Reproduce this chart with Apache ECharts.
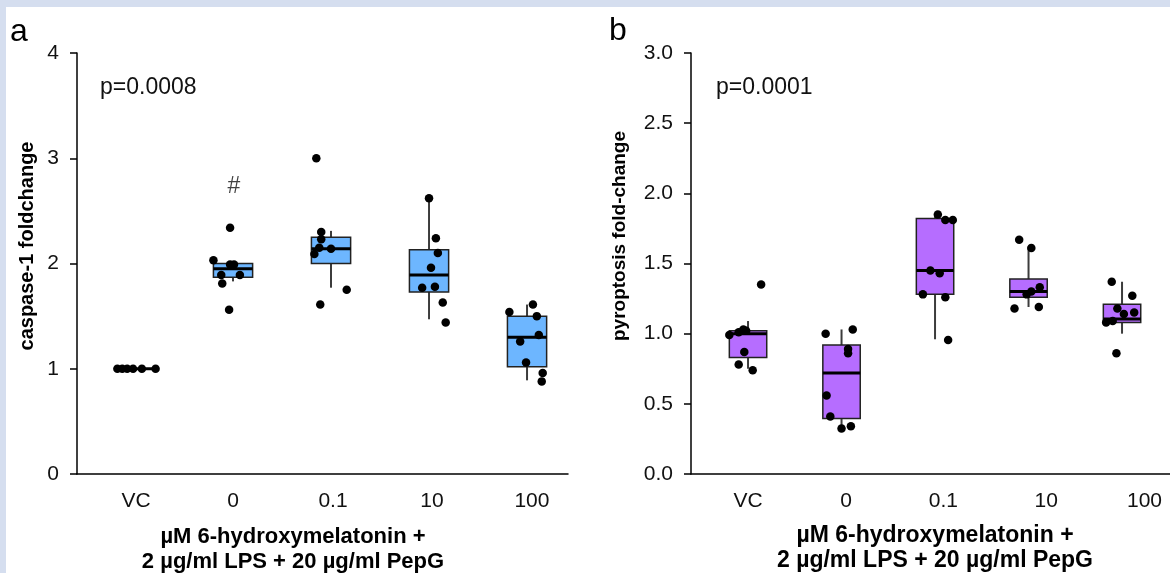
<!DOCTYPE html>
<html>
<head>
<meta charset="utf-8">
<script src="https://cdn.jsdelivr.net/npm/echarts@6/dist/echarts.min.js"></script>
<style>
html,body{margin:0;padding:0;background:#d5deef;}
#paper{position:absolute;left:6px;top:7px;width:1164px;height:566px;background:#fff;}
#chart{position:absolute;left:0;top:0;width:1170px;height:573px;}
</style>
</head>
<body>
<div id="paper"></div>
<div id="chart"></div>
<script>
const groups = ['VC', '0', '0.1', '10', '100'];

// panel a: caspase-1 foldchange, box = [min, Q1, median, Q3, max]
const casBox = [
  [1.0, 1.0, 1.0, 1.0, 1.0],
  [1.83, 1.87, 1.95, 2.0, 2.0],
  [1.77, 2.0, 2.14, 2.25, 2.31],
  [1.47, 1.73, 1.89, 2.13, 2.62],
  [0.89, 1.02, 1.30, 1.50, 1.61]
];
const casDots = [
  [1.0, 1.0, 1.0, 1.0, 1.0, 1.0],
  [2.03, 2.34, 1.99, 1.99, 1.89, 1.89, 1.81, 1.56],
  [3.0, 2.30, 2.23, 2.15, 2.14, 2.09, 1.75, 1.61],
  [2.62, 2.24, 2.10, 1.96, 1.77, 1.78, 1.63, 1.44],
  [1.54, 1.61, 1.50, 1.32, 1.26, 1.06, 0.96, 0.88]
];
const casJitter = [
  [-0.18, -0.13, -0.08, -0.02, 0.07, 0.21],
  [-0.20, -0.03, -0.03, 0.01, -0.12, 0.07, -0.11, -0.04],
  [-0.15, -0.10, -0.10, -0.12, 0.0, -0.17, 0.16, -0.11],
  [0.0, 0.07, 0.09, 0.02, -0.07, 0.06, 0.14, 0.17],
  [-0.18, 0.06, 0.10, 0.12, -0.07, -0.01, 0.16, 0.15]
];
const casLabelAt = [1.01, 2.0, 3.02, 4.03, 5.05];
const casTicks = [0, 1, 2, 3, 4];

// panel b: pyroptosis fold-change
const pyrBox = [
  [0.75, 0.83, 1.0, 1.02, 1.09],
  [0.34, 0.395, 0.72, 0.92, 1.03],
  [0.96, 1.28, 1.45, 1.82, 1.85],
  [1.19, 1.26, 1.30, 1.39, 1.62],
  [1.0, 1.08, 1.105, 1.21, 1.37]
];
const pyrDots = [
  [1.35, 0.99, 1.01, 1.03, 1.02, 0.87, 0.78, 0.74],
  [1.0, 1.03, 0.89, 0.86, 0.56, 0.41, 0.325, 0.34],
  [1.85, 1.81, 1.81, 1.45, 1.43, 1.28, 1.26, 0.955],
  [1.67, 1.61, 1.33, 1.30, 1.28, 1.18, 1.19],
  [1.37, 1.27, 1.18, 1.14, 1.15, 1.09, 1.08, 0.86]
];
const pyrJitter = [
  [0.14, -0.20, -0.10, -0.05, -0.02, -0.04, -0.10, 0.05],
  [-0.17, 0.12, 0.07, 0.07, -0.16, -0.12, 0.0, 0.10],
  [0.03, 0.11, 0.19, -0.05, 0.05, -0.13, 0.11, 0.14],
  [-0.10, 0.03, 0.12, 0.03, -0.02, -0.15, 0.11],
  [-0.11, 0.11, -0.05, 0.02, 0.13, -0.10, -0.17, -0.06]
];
const pyrLabelAt = [1.0, 2.048, 3.09, 4.19, 5.24];
const pyrTicks = [0, 0.5, 1.0, 1.5, 2.0, 2.5, 3.0];

const FONT = '"Liberation Sans", Arial, sans-serif';

function boxData(box) {
  return box.map((b, i) => [i + 1].concat(b));
}
function dotData(dots, jit) {
  const out = [];
  dots.forEach((vals, i) => vals.forEach((v, k) => out.push([i + 1 + jit[i][k], v])));
  return out;
}
function boxRenderer(fill) {
  return function (params, api) {
    const x = api.value(0);
    const lo = api.coord([x, api.value(1)]);
    const q1 = api.coord([x, api.value(2)]);
    const md = api.coord([x, api.value(3)]);
    const q3 = api.coord([x, api.value(4)]);
    const hi = api.coord([x, api.value(5)]);
    const w = api.size([0.4, 0])[0];
    return {
      type: 'group',
      children: [
        { type: 'line', shape: { x1: lo[0], y1: lo[1], x2: hi[0], y2: hi[1] }, style: { stroke: '#3c3c3c', lineWidth: 2 } },
        { type: 'rect', shape: { x: q3[0] - w / 2, y: q3[1], width: w, height: q1[1] - q3[1] }, style: { fill: fill, stroke: '#222', lineWidth: 1.5 } },
        { type: 'line', shape: { x1: md[0] - w / 2, y1: md[1], x2: md[0] + w / 2, y2: md[1] }, style: { stroke: '#000', lineWidth: 3 } }
      ]
    };
  };
}
function xAxisOf(grid, min, max, labelAt) {
  return {
    type: 'value', gridIndex: grid, min: min, max: max,
    axisLine: { show: true, lineStyle: { color: '#000', width: 1.5 } },
    axisTick: { show: false },
    splitLine: { show: false },
    axisLabel: {
      customValues: labelAt, margin: 17, color: '#111', fontSize: 21, fontFamily: FONT,
      formatter: v => groups[labelAt.indexOf(v)] ?? ''
    }
  };
}
function yAxisOf(grid, ticks, fmt) {
  return {
    type: 'value', gridIndex: grid, min: ticks[0], max: ticks[ticks.length - 1],
    interval: ticks[1] - ticks[0],
    axisLine: { show: true, lineStyle: { color: '#000', width: 1.5 } },
    axisTick: { show: true, length: 7, lineStyle: { color: '#000', width: 1.5 } },
    splitLine: { show: false },
    axisLabel: { margin: 18, color: '#111', fontSize: 21, fontFamily: FONT, formatter: fmt }
  };
}

const chart = echarts.init(document.getElementById('chart'));
const titleA = 'bold 22px ' + FONT;
const titleB = 'bold 23px ' + FONT;
chart.setOption({
  animation: false,
  grid: [
    { left: 77, top: 53, width: 491, height: 421 },
    { left: 691, top: 53, width: 479, height: 421 }
  ],
  xAxis: [
    xAxisOf(0, 0.408, 5.418, casLabelAt),
    xAxisOf(1, 0.39, 5.513, pyrLabelAt)
  ],
  yAxis: [
    yAxisOf(0, casTicks, v => String(v)),
    yAxisOf(1, pyrTicks, v => v.toFixed(1))
  ],
  graphic: [
    { type: 'text', left: 10, top: 16, style: { text: 'a', font: '32px ' + FONT, fill: '#000' } },
    { type: 'text', left: 609, top: 15, style: { text: 'b', font: '32px ' + FONT, fill: '#000' } },
    { type: 'text', x: 100, y: 88, style: { text: 'p=0.0008', font: '23px ' + FONT, fill: '#111', textVerticalAlign: 'middle' } },
    { type: 'text', x: 716, y: 88, style: { text: 'p=0.0001', font: '23px ' + FONT, fill: '#111', textVerticalAlign: 'middle' } },
    { type: 'text', x: 27, y: 246, rotation: Math.PI / 2, style: { text: 'caspase-1 foldchange', font: 'bold 20px ' + FONT, fill: '#000', textAlign: 'center', textVerticalAlign: 'middle' } },
    { type: 'text', x: 620, y: 236, rotation: Math.PI / 2, style: { text: 'pyroptosis fold-change', font: 'bold 19px ' + FONT, fill: '#000', textAlign: 'center', textVerticalAlign: 'middle' } },
    { type: 'text', x: 293, y: 537, style: { text: 'µM 6-hydroxymelatonin +', font: titleA, fill: '#000', textAlign: 'center', textVerticalAlign: 'middle' } },
    { type: 'text', x: 293, y: 562, style: { text: '2 µg/ml LPS + 20 µg/ml PepG', font: titleA, fill: '#000', textAlign: 'center', textVerticalAlign: 'middle' } },
    { type: 'text', x: 935, y: 536, style: { text: 'µM 6-hydroxymelatonin +', font: titleB, fill: '#000', textAlign: 'center', textVerticalAlign: 'middle' } },
    { type: 'text', x: 935, y: 561, style: { text: '2 µg/ml LPS + 20 µg/ml PepG', font: titleB, fill: '#000', textAlign: 'center', textVerticalAlign: 'middle' } }
  ],
  series: [
    { type: 'custom', xAxisIndex: 0, yAxisIndex: 0, renderItem: boxRenderer('#6db6ff'), encode: { x: 0, y: [1, 2, 3, 4, 5] }, data: boxData(casBox), z: 2 },
    { type: 'scatter', xAxisIndex: 0, yAxisIndex: 0, symbolSize: 8.5, itemStyle: { color: '#000', opacity: 1 }, data: dotData(casDots, casJitter), z: 3 },
    { type: 'scatter', xAxisIndex: 0, yAxisIndex: 0, symbolSize: 1, itemStyle: { color: 'rgba(0,0,0,0)' },
      label: { show: true, position: 'inside', formatter: '#', fontSize: 23, fontFamily: FONT, color: '#111' }, data: [[2.01, 2.73]], z: 4 },
    { type: 'custom', xAxisIndex: 1, yAxisIndex: 1, renderItem: boxRenderer('#b66dff'), encode: { x: 0, y: [1, 2, 3, 4, 5] }, data: boxData(pyrBox), z: 2 },
    { type: 'scatter', xAxisIndex: 1, yAxisIndex: 1, symbolSize: 8.5, itemStyle: { color: '#000', opacity: 1 }, data: dotData(pyrDots, pyrJitter), z: 3 }
  ]
});
</script>
</body>
</html>
